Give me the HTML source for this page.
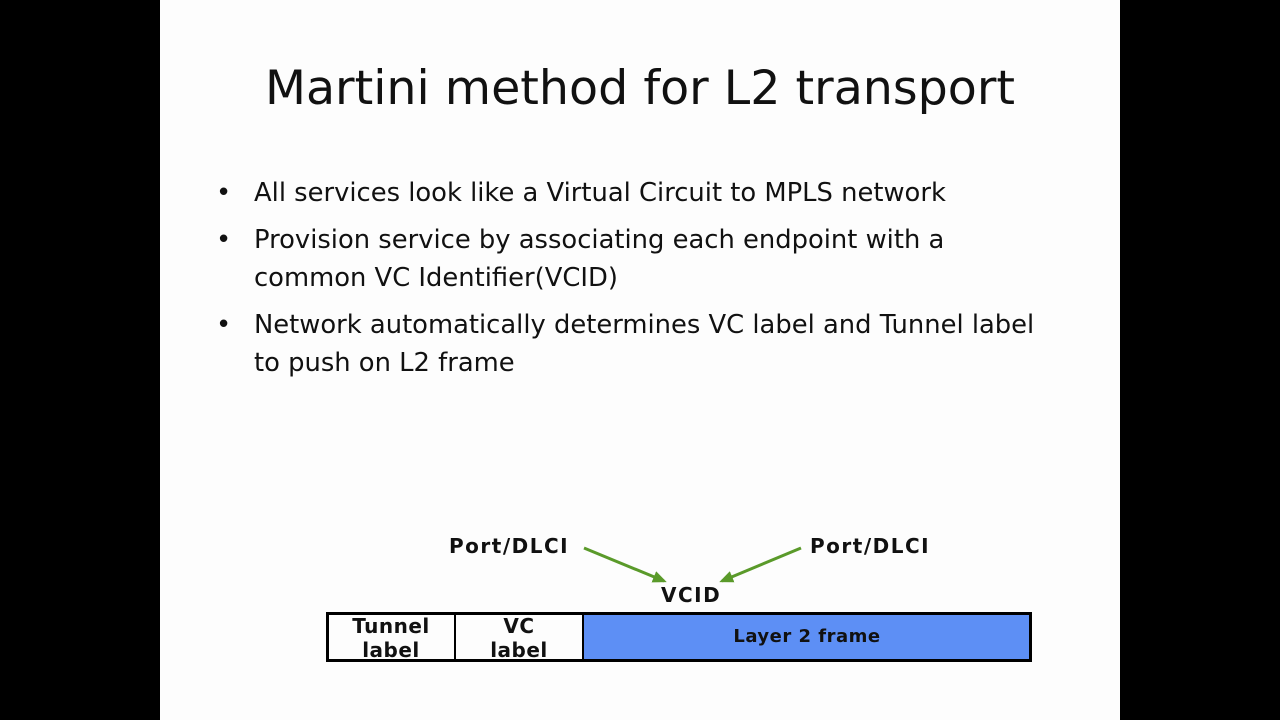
<!DOCTYPE html>
<html><head><style>
body{margin:0;width:1280px;height:720px;background:#000;position:relative;overflow:hidden;font-family:"DejaVu Sans","Liberation Sans",sans-serif}
#s{position:absolute;left:160px;top:0;width:960px;height:720px;background:#fdfdfd}
.t{position:absolute;left:0;width:960px;top:61px;text-align:center;font-size:47.5px;color:#111;letter-spacing:0px}
.b{position:absolute;left:94px;font-size:25.8px;color:#111;line-height:38px;width:860px}
.b span{position:absolute;left:-38px}
.lbl{position:absolute;font-weight:bold;font-size:20px;color:#111;letter-spacing:1.5px}
</style></head><body>
<div id="s">
<div class="t">Martini method for L2 transport</div>
<div class="b" style="top:174px"><span>•</span>All services look like a Virtual Circuit to MPLS network</div>
<div class="b" style="top:221px"><span>•</span>Provision service by associating each endpoint with a<br>common VC Identifier(VCID)</div>
<div class="b" style="top:306px"><span>•</span>Network automatically determines VC label and Tunnel label<br>to push on L2 frame</div>
</div>
<div class="lbl" style="left:449px;top:534px">Port/DLCI</div>
<div class="lbl" style="left:810px;top:534px">Port/DLCI</div>
<div class="lbl" style="left:661px;top:583px">VCID</div>
<svg style="position:absolute;left:0;top:0" width="1280" height="720">
<defs><marker id="a" markerWidth="14" markerHeight="12" refX="11" refY="6" orient="auto" markerUnits="userSpaceOnUse"><path d="M0,0L14,6L0,12z" fill="#5a9a2a"/></marker></defs>
<line x1="584" y1="548" x2="664" y2="581" stroke="#5a9a2a" stroke-width="3" marker-end="url(#a)"/>
<line x1="801" y1="548" x2="722" y2="581" stroke="#5a9a2a" stroke-width="3" marker-end="url(#a)"/>
<rect x="584" y="614" width="446" height="46" fill="#5d8ff5"/>
<rect x="327.5" y="613.5" width="703" height="47" fill="none" stroke="#000" stroke-width="3"/>
<line x1="455" y1="613" x2="455" y2="661" stroke="#000" stroke-width="2"/>
<line x1="583" y1="613" x2="583" y2="661" stroke="#000" stroke-width="2"/>
</svg>
<div class="lbl" style="left:327px;width:128px;top:614px;text-align:center;line-height:24px;letter-spacing:0.5px">Tunnel<br>label</div>
<div class="lbl" style="left:455px;width:128px;top:614px;text-align:center;line-height:24px;letter-spacing:0.5px">VC<br>label</div>
<div class="lbl" style="left:583px;width:448px;top:626px;text-align:center;font-size:18px;letter-spacing:0.5px">Layer 2 frame</div>
</body></html>
